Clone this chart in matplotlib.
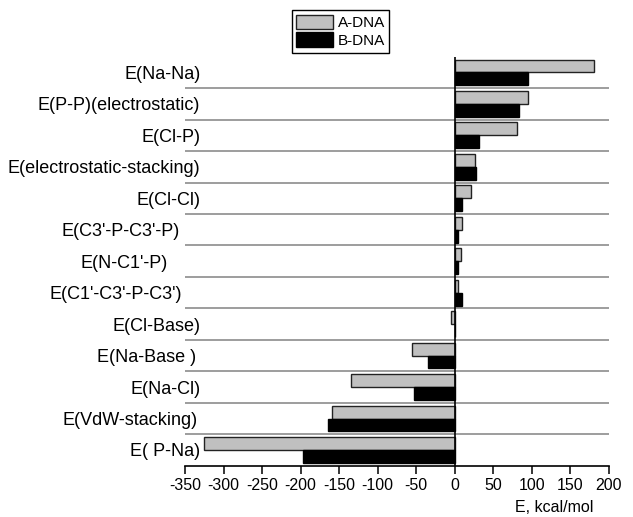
import numpy as np
import matplotlib.pyplot as plt
from matplotlib.transforms import ScaledTranslation

plt.rcParams['font.family'] = ['Liberation Sans', 'DejaVu Sans']

categories = ["E(Na-Na)", "E(P-P)(electrostatic)", "E(Cl-P)",
              "E(electrostatic-stacking)", "E(Cl-Cl)", "E(C3'-P-C3'-P)",
              "E(N-C1'-P)", "E(C1'-C3'-P-C3')", "E(Cl-Base)", "E(Na-Base )",
              "E(Na-Cl)", "E(VdW-stacking)", "E( P-Na)"]
a_dna = [181, 95, 81, 26, 21, 9, 8, 4, -5.5, -55, -135, -159, -326]
b_dna = [95, 83, 31, 28, 9, 4, 3.5, 9, 0, -35, -53, -165, -197]
xticks = [-350, -300, -250, -200, -150, -100, -50, 0, 50, 100, 150, 200]

fig = plt.figure(figsize=(6.33, 5.17), dpi=100)
ax = fig.add_axes([185 / 633, 1 - 465.7 / 517, 424 / 633, 409 / 517])

y = np.arange(len(categories))
h = 0.41
ax.barh(y - h / 2, a_dna, height=h, color='#c0c0c0', edgecolor='#222222',
        linewidth=1, label='A-DNA', zorder=2)
ax.barh(y + h / 2, b_dna, height=h, color='black', edgecolor='black',
        linewidth=1, label='B-DNA', zorder=2)

# separators between categories
for yy in np.arange(0.5, len(categories) - 0.5):
    ax.axhline(yy, color='#8c8c8c', lw=1.2, zorder=1)
ax.axvline(0, color='black', lw=1.2, zorder=3)

ax.set_xlim(-350, 200)
ax.set_ylim(len(categories) - 0.5, -0.5)
ax.set_xticks(xticks)
ax.set_xticklabels([str(t) for t in xticks], fontsize=11.5)
ax.set_yticks(y)
ax.set_yticklabels(categories, fontsize=13)
ax.tick_params(axis='y', length=0, pad=-11)
ax.tick_params(axis='x', direction='out', length=5.5, width=1.1, pad=3)

# labels with primes sit a little further left in the original
shift_px = [0, 0, 0, 0, 0, -21, -33, -18, 0, -4, 0, -3, 0]
for lbl, s in zip(ax.get_yticklabels(), shift_px):
    lbl.set_transform(lbl.get_transform() + ScaledTranslation(s / 100, 0, fig.dpi_scale_trans))

for side in ['left', 'top', 'right']:
    ax.spines[side].set_visible(False)
ax.spines['bottom'].set_linewidth(1.2)

fig.text(593 / 633, 1 - 507 / 517, 'E, kcal/mol', fontsize=11.5,
         ha='right', va='center')

ax.legend(loc='upper left', bbox_to_anchor=(291.7 / 633, 1 - 10 / 517),
          bbox_transform=fig.transFigure, fancybox=False, edgecolor='black',
          framealpha=1, fontsize=11, handlelength=2.4, handleheight=1.1,
          labelspacing=0.15, borderpad=0.3, handletextpad=0.3,
          borderaxespad=0)

fig.savefig('out.png', dpi=100)
